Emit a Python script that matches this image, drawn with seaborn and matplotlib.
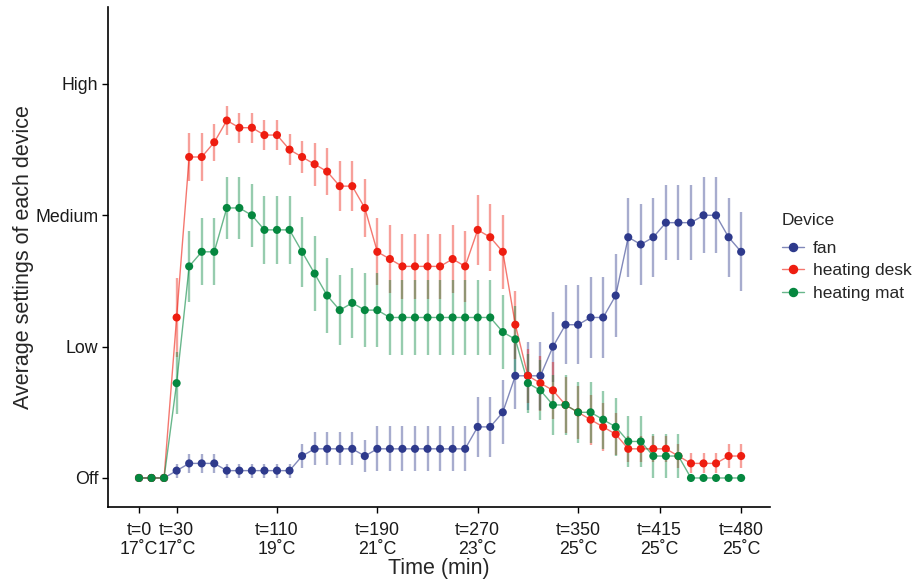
import numpy as np
import pandas as pd
import matplotlib
matplotlib.use("Agg")
import matplotlib.pyplot as plt
from matplotlib.lines import Line2D
import seaborn as sns

# ---------------- data ----------------
times = list(range(0, 481, 10))

fan = [0, 0, 0, 0.056, 0.111, 0.111, 0.111, 0.056, 0.056, 0.056, 0.056, 0.056, 0.056,
       0.167, 0.222, 0.222, 0.222, 0.222, 0.167, 0.222, 0.222, 0.222, 0.222, 0.222,
       0.222, 0.222, 0.222, 0.389, 0.389, 0.5, 0.778, 0.778, 0.778, 1.0, 1.167, 1.167,
       1.222, 1.222, 1.389, 1.833, 1.778, 1.833, 1.944, 1.944, 1.944, 2.0, 2.0, 1.833, 1.722]
fan_se = [0, 0, 0, 0.053, 0.074, 0.074, 0.074, 0.053, 0.053, 0.053, 0.053, 0.053, 0.053,
          0.089, 0.127, 0.127, 0.127, 0.127, 0.119, 0.17, 0.17, 0.17, 0.17, 0.17, 0.17,
          0.17, 0.17, 0.228, 0.228, 0.244, 0.254, 0.26, 0.26, 0.267, 0.30, 0.30, 0.307,
          0.307, 0.313, 0.302, 0.305, 0.302, 0.283, 0.283, 0.283, 0.289, 0.289, 0.302, 0.30]

desk = [0, 0, 0, 1.222, 2.444, 2.444, 2.556, 2.722, 2.667, 2.667, 2.611, 2.611, 2.5,
        2.444, 2.389, 2.333, 2.222, 2.222, 2.056, 1.722, 1.667, 1.611, 1.611, 1.611,
        1.611, 1.667, 1.611, 1.889, 1.833, 1.722, 1.167, 0.778, 0.722, 0.667, 0.556,
        0.5, 0.444, 0.389, 0.333, 0.222, 0.222, 0.222, 0.222, 0.167, 0.111, 0.111,
        0.111, 0.167, 0.167]
desk_se = [0, 0, 0, 0.30, 0.184, 0.184, 0.14, 0.107, 0.113, 0.113, 0.117, 0.117, 0.118,
           0.119, 0.164, 0.18, 0.189, 0.189, 0.221, 0.254, 0.259, 0.25, 0.25, 0.25, 0.25,
           0.259, 0.27, 0.266, 0.254, 0.28, 0.26, 0.206, 0.21, 0.216, 0.21, 0.2, 0.19,
           0.18, 0.16, 0.1, 0.1, 0.1, 0.1, 0.09, 0.076, 0.076, 0.076, 0.089, 0.089]

mat = [0, 0, 0, 0.722, 1.611, 1.722, 1.722, 2.056, 2.056, 2.0, 1.889, 1.889, 1.889,
       1.722, 1.556, 1.389, 1.278, 1.333, 1.278, 1.278,
       1.222, 1.222, 1.222, 1.222, 1.222, 1.222, 1.222, 1.222, 1.222,
       1.111, 1.056, 0.722, 0.667, 0.556, 0.556, 0.5, 0.5, 0.444, 0.389, 0.278, 0.278,
       0.167, 0.167, 0.167, 0, 0, 0, 0, 0]
mat_se = [0, 0, 0, 0.235, 0.269, 0.254, 0.254, 0.235, 0.235, 0.241, 0.256, 0.256, 0.256,
          0.267, 0.284, 0.283, 0.267, 0.268, 0.279, 0.279,
          0.286, 0.286, 0.286, 0.286, 0.286, 0.286, 0.286, 0.286, 0.286,
          0.28, 0.255, 0.225, 0.228, 0.23, 0.23, 0.231, 0.231, 0.22, 0.218, 0.193, 0.193,
          0.166, 0.166, 0.166, 0, 0, 0, 0, 0]

devices = ["fan", "heating desk", "heating mat"]
colors = {"fan": "#2E3A8C", "heating desk": "#EE1D10", "heating mat": "#05873F"}

x_ticks = [0, 30, 110, 190, 270, 350, 415, 480]
x_ticklabels = ["t=0\n17˚C", "t=30\n17˚C", "t=110\n19˚C", "t=190\n21˚C",
                "t=270\n23˚C", "t=350\n25˚C", "t=415\n25˚C", "t=480\n25˚C"]
y_ticks = [0, 1, 2, 3]
y_ticklabels = ["Off", "Low", "Medium", "High"]

df = pd.concat([
    pd.DataFrame({"time": times, "value": fan, "se": fan_se, "device": "fan"}),
    pd.DataFrame({"time": times, "value": desk, "se": desk_se, "device": "heating desk"}),
    pd.DataFrame({"time": times, "value": mat, "se": mat_se, "device": "heating mat"}),
], ignore_index=True)

# ---------------- plotting ----------------
sns.set_theme(style="ticks")
plt.rcParams["font.family"] = ["Liberation Sans", "DejaVu Sans"]

fig = plt.figure(figsize=(9.18, 5.85), dpi=100)
ax = fig.add_axes([108 / 918, 78 / 585, (770 - 108) / 918, (507 - 7) / 585])

for d in devices:
    sub = df[df["device"] == d]
    ax.vlines(sub["time"], sub["value"] - sub["se"], sub["value"] + sub["se"],
              colors=colors[d], alpha=0.42, lw=1.7, zorder=2)

sns.lineplot(data=df, x="time", y="value", hue="device", palette=colors,
             estimator=None, lw=1.0, alpha=0.6, legend=False, ax=ax, zorder=3)
sns.scatterplot(data=df, x="time", y="value", hue="device", palette=colors,
                s=34, linewidth=0, legend=False, ax=ax, zorder=4)

ax.set_xlim(-24.7, 503)
ax.set_ylim(-0.221, 3.586)
ax.set_xticks(x_ticks)
ax.set_xticklabels(x_ticklabels, fontsize=12.8, linespacing=1.15)
ax.set_yticks(y_ticks)
ax.set_yticklabels(y_ticklabels, fontsize=12.8)
ax.tick_params(axis="both", direction="out", length=4, width=1.0, colors="black",
               labelcolor="#1a1a1a", pad=3)
ax.tick_params(axis="x", pad=7)
for s in ["top", "right"]:
    ax.spines[s].set_visible(False)
for s in ["left", "bottom"]:
    ax.spines[s].set_linewidth(1.2)
    ax.spines[s].set_color("black")

ax.set_xlabel("Time (min)", fontsize=15.5, labelpad=0)
ax.set_ylabel("Average settings of each device", fontsize=15.5, labelpad=1)

handles = []
for d in devices:
    c = matplotlib.colors.to_rgb(colors[d])
    handles.append(Line2D([0], [0], color=(*c, 0.6), lw=1.0, marker="o",
                          markersize=5.8, markerfacecolor=c, markeredgecolor=c))
leg = fig.legend(handles, devices, title="Device", loc="upper left",
                 bbox_to_anchor=(775 / 918, 1 - 206 / 585), frameon=False,
                 fontsize=12.5, title_fontsize=12.5, handlelength=1.25,
                 handletextpad=0.55, labelspacing=0.44, borderaxespad=0)
leg._legend_box.align = "left"
leg._legend_box.sep = 9

fig.savefig("out.png", dpi=100)
